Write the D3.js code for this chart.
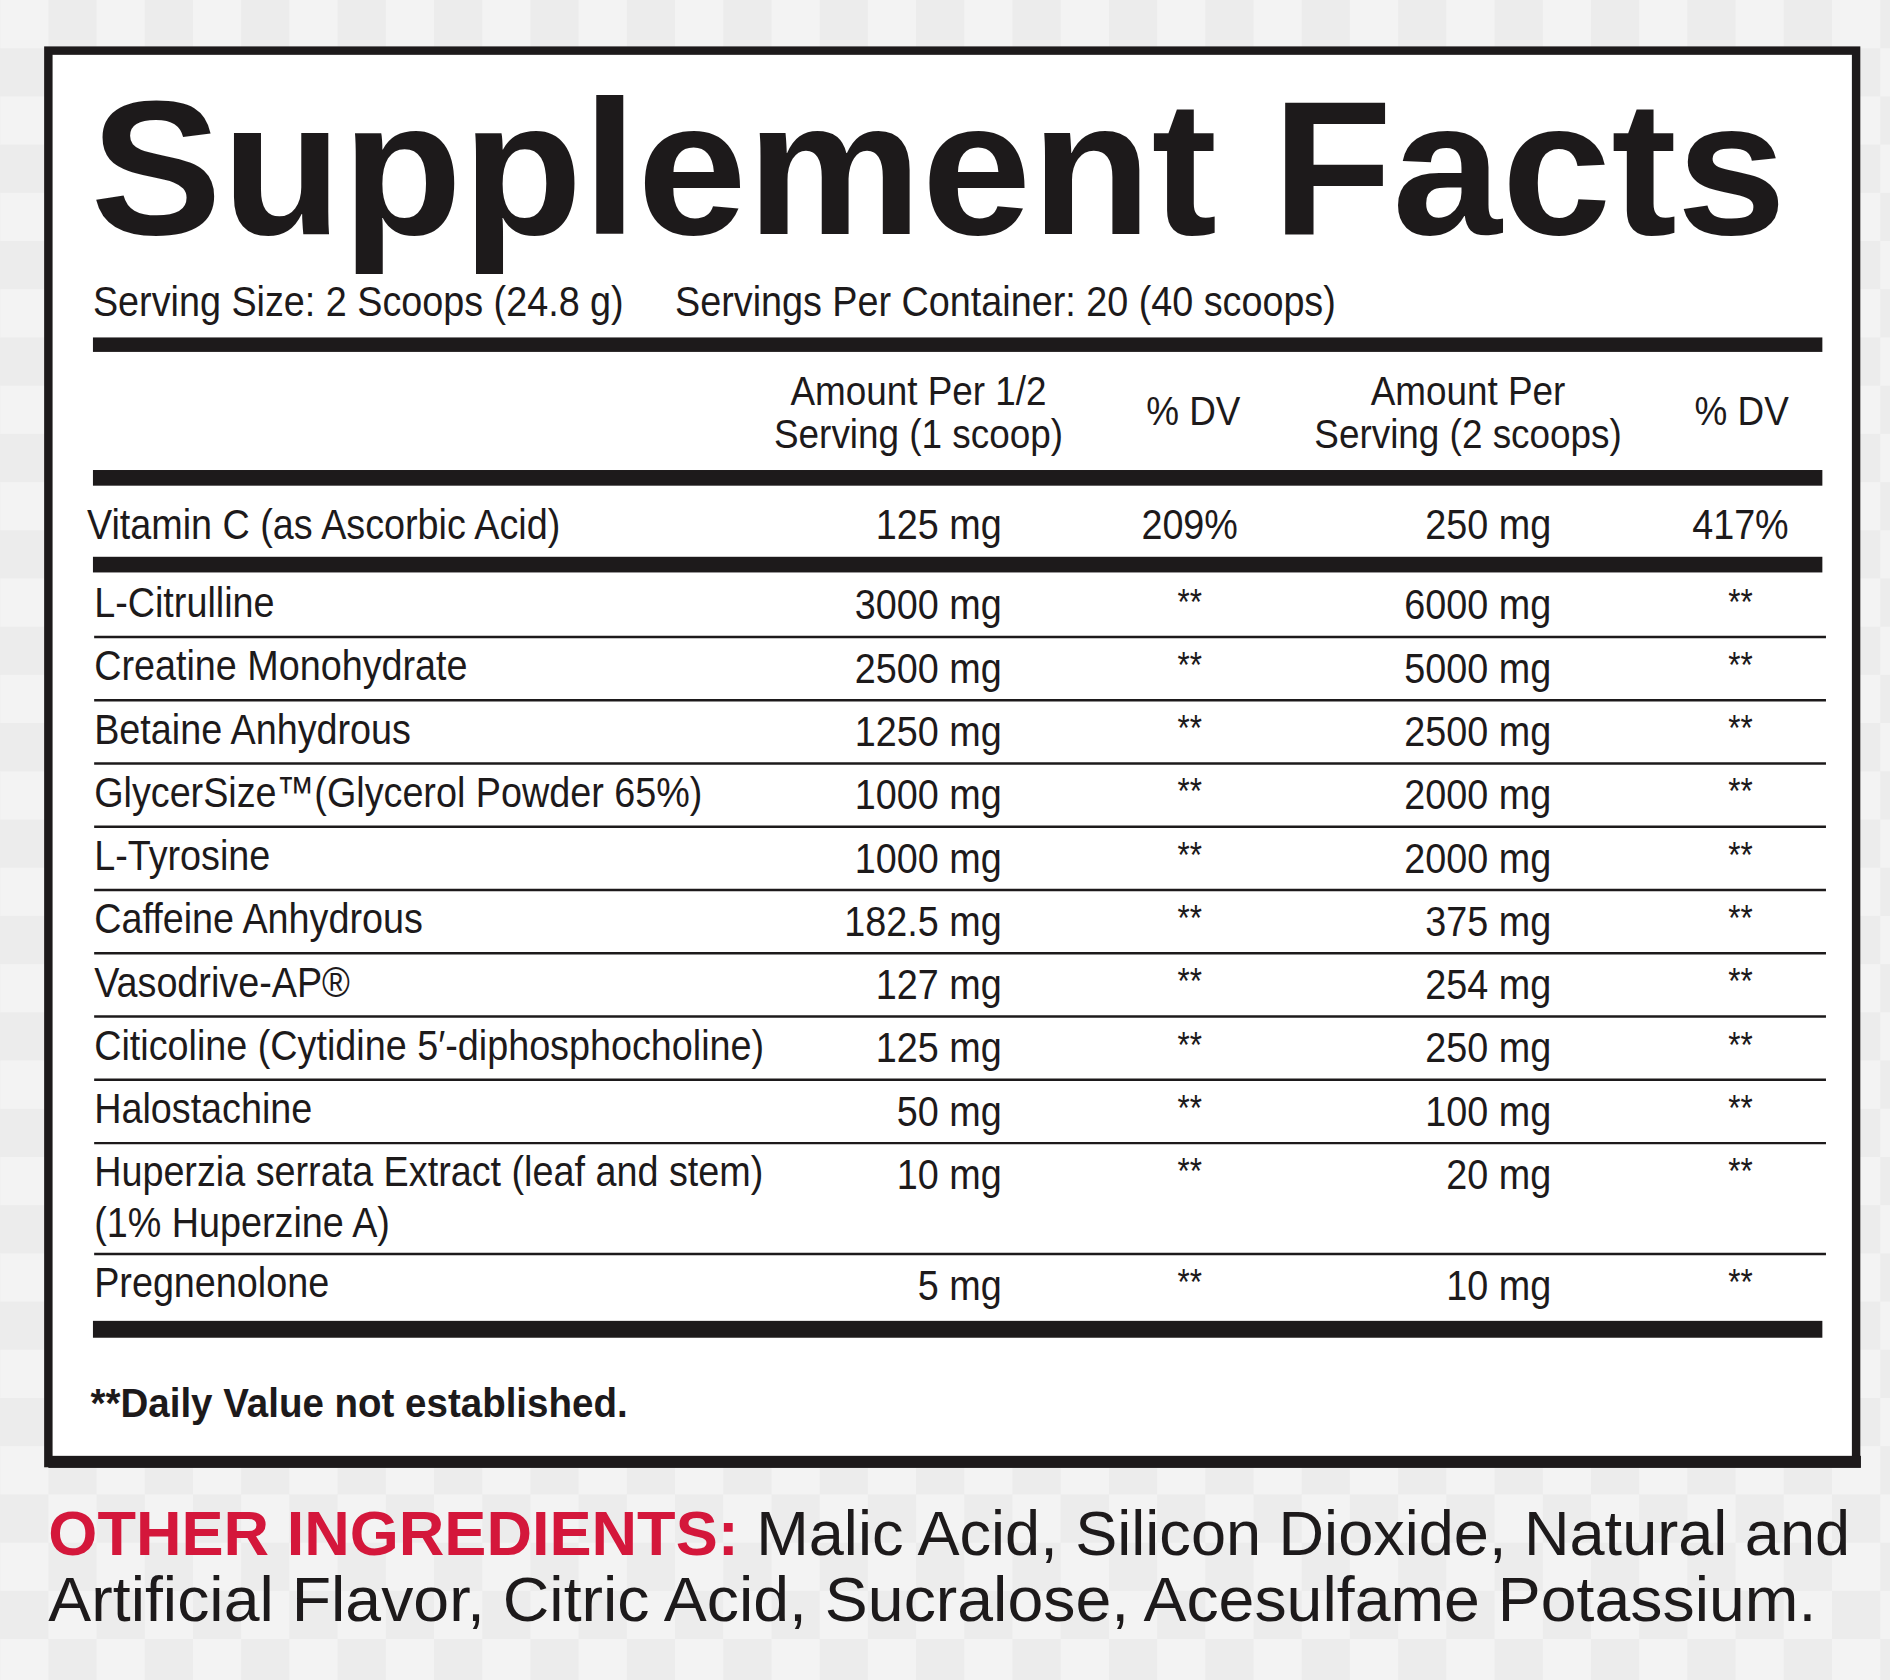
<!DOCTYPE html>
<html>
<head>
<meta charset="utf-8">
<script src="https://cdn.jsdelivr.net/npm/d3@7"></script>
<style>
  body { margin: 0; background: #ececec; }
  text { font-family: "Liberation Sans", Arial, sans-serif; fill: #1d1a1b; }
</style>
</head>
<body>
<svg id="chart"></svg>
<script>
// label data
const ingredients = ["L-Citrulline", "Creatine Monohydrate", "Betaine Anhydrous",
    "GlycerSize™(Glycerol Powder 65%)", "L-Tyrosine", "Caffeine Anhydrous", "Vasodrive-AP®",
    "Citicoline (Cytidine 5′-diphosphocholine)", "Halostachine",
    "Huperzia serrata Extract (leaf and stem)|(1% Huperzine A)", "Pregnenolone"];
const perHalf = ["3000 mg", "2500 mg", "1250 mg", "1000 mg", "1000 mg", "182.5 mg", "127 mg", "125 mg", "50 mg", "10 mg", "5 mg"];
const perServing = ["6000 mg", "5000 mg", "2500 mg", "2000 mg", "2000 mg", "375 mg", "254 mg", "250 mg", "100 mg", "20 mg", "10 mg"];
const dvMark = "**";
const vitaminRow = ["Vitamin C (as Ascorbic Acid)", "125 mg", "209%", "250 mg", "417%"];
const headers = [["Amount Per 1/2", "Serving (1 scoop)"], ["% DV"], ["Amount Per", "Serving (2 scoops)"], ["% DV"]];
const otherLine1 = "Malic Acid, Silicon Dioxide, Natural and";
const otherLine2 = "Artificial Flavor, Citric Acid, Sucralose, Acesulfame Potassium.";

const W = 1568, H = 1394;
const NARROW = 0.87;
const svg = d3.select("#chart")
    .attr("width", 1890).attr("height", 1680)
    .attr("viewBox", `0 0 ${W} ${H}`);

// checker background
const tile = 40;
for (let y = 0; y < H; y += tile) {
    for (let x = 0; x < W; x += tile) {
        if (((x / tile) + (y / tile)) % 2 === 0) {
            svg.append("rect").attr("x", x).attr("y", y).attr("width", tile).attr("height", tile)
                .attr("fill", "#f3f3f3");
        }
    }
}

// panel
svg.append("rect").attr("x", 40).attr("y", 42).attr("width", 1500).attr("height", 1172)
    .attr("fill", "white").attr("stroke", "#1d1a1b").attr("stroke-width", 7);
svg.append("rect").attr("x", 40).attr("y", 1208).attr("width", 1504).attr("height", 10).attr("fill", "#1d1a1b");

function fitText(sel, w) {
    sel.attr("textLength", w).attr("lengthAdjust", "spacingAndGlyphs");
}
// condensed text: horizontally squeezed around its anchor
function narrow(x, y, t, anchor, size, sx) {
    return svg.append("text")
        .attr("transform", `translate(${x},${y}) scale(${sx || NARROW},1)`)
        .attr("text-anchor", anchor || "start")
        .style("font-size", (size || 35) + "px")
        .text(t);
}

fitText(svg.append("text").attr("x", 75).attr("y", 194)
    .style("font-weight", "bold").style("font-size", "158px").text("Supplement Facts"), 1407);

narrow(77, 262, "Serving Size: 2 Scoops (24.8 g)", "start", 36);
narrow(560, 262, "Servings Per Container: 20 (40 scoops)", "start", 36);

const bar = (y, h) => svg.append("rect").attr("x", 77).attr("y", y).attr("width", 1435).attr("height", h).attr("fill", "#1d1a1b");
bar(280, 12);
bar(390, 13);
bar(462, 13);
bar(1096, 14);

// column positions
const colX = d3.scaleOrdinal().domain(["name", "half", "dvHalf", "full", "dvFull"])
    .range([78, 831, 987, 1287, 1444]);

const hdrCenters = [762, 990, 1218, 1445];
headers.forEach((lines, i) => {
    lines.forEach((t, j) => {
        const y = lines.length === 1 ? 353 : 336 + j * 36;
        narrow(hdrCenters[i], y, t, "middle", 34, 0.9);
    });
});

// vitamin C row
narrow(72, 447, vitaminRow[0], "start", 36);
narrow(colX("half"), 447, vitaminRow[1], "end", 36);
narrow(colX("dvHalf"), 447, vitaminRow[2], "middle", 36);
narrow(colX("full"), 447, vitaminRow[3], "end", 36);
narrow(colX("dvFull"), 447, vitaminRow[4], "middle", 36);

// ingredient rows
let rowTop = 476;
ingredients.forEach((name, i) => {
    const lines = name.split("|");
    const h = lines.length > 1 ? 92 : 52.5;
    const base = rowTop + 36;
    lines.forEach((l, j) => narrow(colX("name"), base + j * 42, l, "start", 36));
    narrow(colX("half"), base + 2, perHalf[i], "end", 36);
    narrow(colX("full"), base + 2, perServing[i], "end", 36);
    narrow(colX("dvHalf"), base - 2, dvMark, "middle", 30);
    narrow(colX("dvFull"), base - 2, dvMark, "middle", 30);
    rowTop += h;
    if (i < ingredients.length - 1) {
        svg.append("line").attr("x1", 78).attr("x2", 1515).attr("y1", rowTop).attr("y2", rowTop)
            .attr("stroke", "#1d1a1b").attr("stroke-width", 2);
    }
});

narrow(75, 1176, "**Daily Value not established.", "start", 34, 0.94).style("font-weight", "bold");

// other ingredients
const l1 = svg.append("text").attr("x", 40).attr("y", 1290).style("font-size", "52px");
l1.append("tspan").style("fill", "#d4173b").style("font-weight", "bold").text("OTHER INGREDIENTS: ");
l1.append("tspan").text(otherLine1);
fitText(l1, 1495);
fitText(svg.append("text").attr("x", 40).attr("y", 1345).style("font-size", "52px").text(otherLine2), 1467);
</script>
</body>
</html>
